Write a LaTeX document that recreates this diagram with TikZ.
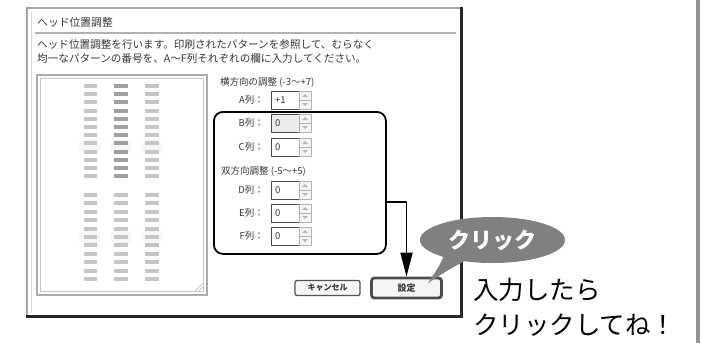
\documentclass[tikz,border=0pt]{standalone}
\usepackage{fontspec}
\setmainfont{Noto Sans CJK JP}
\usetikzlibrary{arrows.meta,shapes.geometric,calc}
\definecolor{bubblegray}{RGB}{128,128,128}
\definecolor{dlgtxt}{RGB}{55,55,55}
\tikzset{
  dlgtext/.style={font=\fontsize{10.6}{12}\selectfont, text=dlgtxt, inner sep=0pt, anchor=west},
  lbl/.style={font=\fontsize{9.5}{11}\selectfont, text=dlgtxt, inner sep=0pt},
  bar/.style={fill=gray!45},
  darkbar/.style={fill=gray!75},
  grpbox/.style={draw=black, line width=1.8pt, rounded corners=9pt, minimum width=172pt, minimum height=142pt, anchor=north west, inner sep=0pt},
  conn/.style={draw=black, line width=1.8pt, -{Triangle[length=24pt,width=12pt]}},
  cancelbtn/.style={draw=gray!65!black, line width=1.3pt, rounded corners=2pt, fill=gray!6, minimum width=65pt, minimum height=15pt, inner sep=0pt, font=\fontsize{8}{9}\selectfont\bfseries, text=dlgtxt},
  okbtn/.style={draw=gray!60!black, line width=2.8pt, rounded corners=3pt, fill=gray!8, minimum width=70pt, minimum height=20pt, inner sep=0pt, font=\fontsize{9}{10}\selectfont\bfseries, text=dlgtxt},
  bubble/.style={ellipse, fill=bubblegray, minimum width=145pt, minimum height=46pt, inner sep=0pt},
  bigtext/.style={font=\fontsize{25.5}{30}\selectfont, text=black, inner sep=0pt, anchor=west}
}
\begin{document}
\begin{tikzpicture}[x=1pt,y=-1pt]
\useasboundingbox (0,0) rectangle (701,343);
\fill[white] (0,0) rectangle (701,343);

% right gray bar
\fill[gray!85] (696,0) rectangle (700,343);

% dialog frame
\fill[white] (27,8) rectangle (461,316);
\draw[gray!30, line width=0.8pt] (31,12) -- (31,313);
\draw[line width=2.5pt, gray!70] (26,8) -- (461,8);
\draw[line width=2pt, gray!70] (27,8) -- (27,316);
\draw[line width=2.6pt, black!85] (461.3,7) -- (461.3,317.5);
\draw[line width=3pt, black!85] (26,316) -- (462.5,316);

% title
\node[dlgtext, font=\fontsize{10.8}{12}\selectfont] (title) at (37,22) {ヘッド位置調整};
\draw[gray!60, line width=1.6pt] (35,33) -- (456,33);
\node[dlgtext] (desc1) at (37,44) {ヘッド位置調整を行います。印刷されたパターンを参照して、むらなく};
\node[dlgtext] (desc2) at (37,58) {均一なパターンの番号を、A～F列それぞれの欄に入力してください。};

% pattern panel
\draw[gray!65, line width=1.4pt] (37,75) rectangle (207,295);
\draw[gray!45, line width=0.8pt] (40.5,78.5) rectangle (203.5,291.5);
\draw[gray!55] (195,291) -- (203,283);
\draw[gray!55] (199,291) -- (203,287);
% highlight blurs
\foreach \cx in {90,121,152} {
  \fill[gray!7] (\cx,147) ellipse (11pt and 8pt);
  \fill[gray!7] (\cx,237) ellipse (11pt and 8pt);
}
\foreach \i in {0,...,11} {
  \fill[bar] (83.5,{86+8.2*\i-2}) rectangle (97,{86+8.2*\i+2});
  \fill[darkbar] (113.5,{86+8.2*\i-2}) rectangle (128,{86+8.2*\i+2});
  \fill[bar] (145,{86+8.2*\i-2}) rectangle (158.5,{86+8.2*\i+2});
}
\foreach \i in {0,...,10} {
  \fill[bar] (83.5,{195+8.4*\i-2}) rectangle (97,{195+8.4*\i+2});
  \fill[bar] (113.5,{195+8.4*\i-2}) rectangle (128,{195+8.4*\i+2});
  \fill[bar] (145,{195+8.4*\i-2}) rectangle (158.5,{195+8.4*\i+2});
}

% controls
\node[lbl, anchor=west] (hlabel) at (220,82) {横方向の調整 (-3〜+7)};
\node[lbl, anchor=west] (blabel) at (221,171) {双方向調整 (-5〜+5)};
\foreach \lab/\yy/\val/\fc in {A/100/+1/white, B/123/0/gray!15, C/147/0/white, D/190/0/white, E/213/0/white, F/236/0/white} {
  \node[lbl, anchor=east] (l\lab) at (264,\yy) {\lab 列：};
  \draw[gray!60!black, line width=0.9pt, fill=\fc] (271,\yy-9) rectangle (299,\yy+9);
  \node[lbl, anchor=west] (v\lab) at (275,\yy) {\val};
  \draw[gray!60, line width=0.7pt, fill=gray!8] (299,\yy-9) rectangle (311,\yy+9);
  \draw[gray!60, line width=0.5pt] (299,\yy) -- (311,\yy);
  \fill[gray!55] (302,\yy-3) -- (308,\yy-3) -- (305,\yy-6) -- cycle;
  \fill[gray!55] (302,\yy+3) -- (308,\yy+3) -- (305,\yy+6) -- cycle;
}

% group box
\node[grpbox] (grp) at (213,111) {};

% buttons
\node[cancelbtn] (cancel) at (327.5,288) {キャンセル};
\node[okbtn] (ok) at (406.5,288) {設定};

% connector
\draw[conn] (grp.east |- 0,202) -| (ok.north);

% speech bubble
\fill[bubblegray] (446,251) .. controls (440,265) .. (428,283) .. controls (448,270) .. (472,257) -- cycle;
\node[bubble] (bub) at (492.5,240) {};
\node[font=\fontsize{22}{24}\selectfont\bfseries, text=white, inner sep=0pt] (bubtext) at (bub.center) {クリック};

% big text
\node[bigtext] (line1) at (473,290) {入力したら};
\node[bigtext] (line2) at (473,325) {クリックしてね！};
\end{tikzpicture}
\end{document}
